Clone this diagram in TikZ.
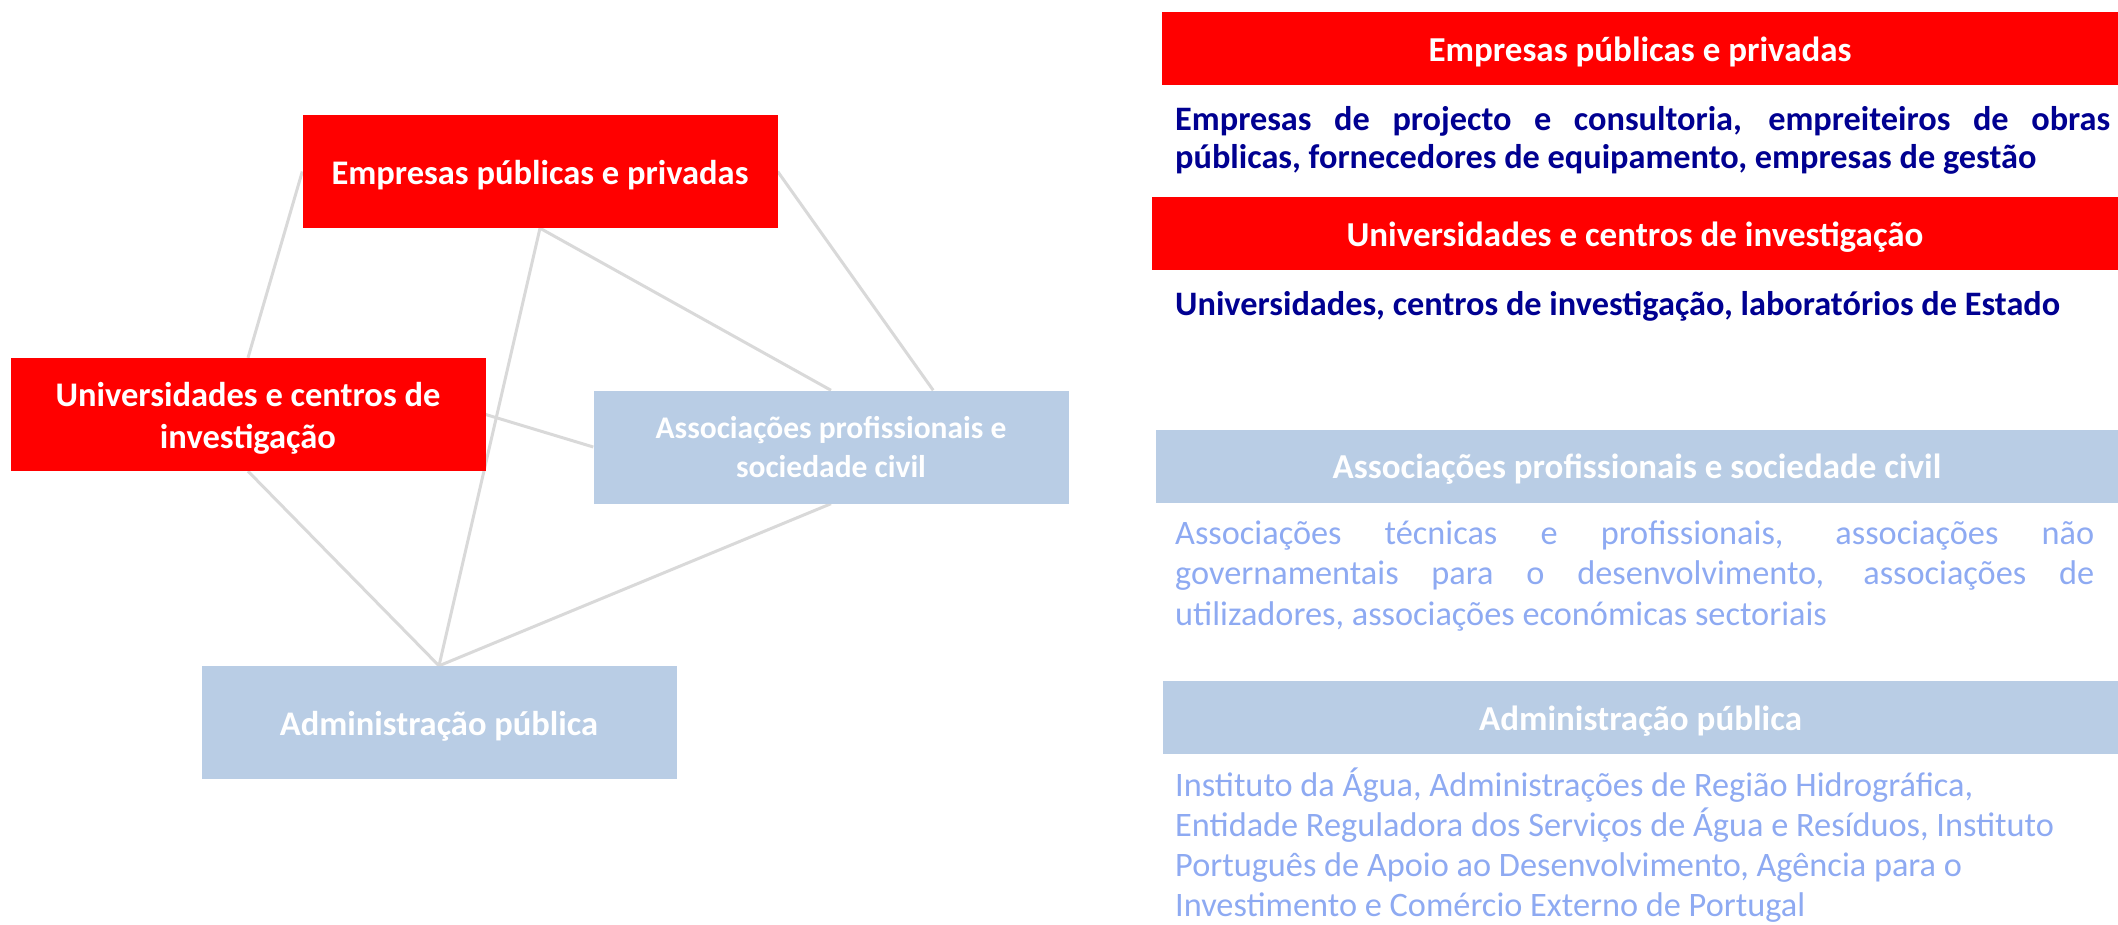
\documentclass[tikz,border=0pt]{standalone}
\usepackage{fontspec}
\setmainfont{Carlito}
\usetikzlibrary{calc}
\pgfdeclarelayer{background}
\pgfsetlayers{background,main}
\definecolor{boxred}{RGB}{255,0,0}
\definecolor{boxblue}{RGB}{185,205,229}
\definecolor{linegray}{RGB}{217,217,217}
\definecolor{navytext}{RGB}{0,0,145}
\definecolor{lighttext}{RGB}{142,170,242}
\newcommand\lnstrut{\rule[-0.22em]{0pt}{1.17em}}
\tikzset{
  leftbox/.style={rectangle, minimum width=475pt, minimum height=113pt, inner sep=0pt, text=white, align=center, font=\fontsize{34.5}{42}\selectfont\bfseries},
  redbox/.style={leftbox, fill=boxred},
  bluebox/.style={leftbox, fill=boxblue},
  headbox/.style={rectangle, minimum height=73pt, inner sep=0pt, text=white, font=\fontsize{35}{42}\selectfont\bfseries},
  conn/.style={draw=linegray, line width=3pt},
  navyline/.style={anchor=base west, inner sep=0pt, text=navytext, font=\fontsize{34.3}{40}\selectfont\bfseries},
  lightline/.style={anchor=base west, inner sep=0pt, text=lighttext, font=\fontsize{34.3}{40}\selectfont},
}
\begin{document}
\begin{tikzpicture}[x=1pt,y=-1pt]
\useasboundingbox (0,0) rectangle (2118,925);
% left diagram
\node[redbox] (emp) at (540,171.5) {\lnstrut Empresas públicas e privadas};
\node[redbox] (uni) at (248,414.5) {\lnstrut Universidades e centros de\\\lnstrut investigação};
\node[bluebox, font=\fontsize{31.5}{39}\selectfont\bfseries] (assoc) at (831,447) {\lnstrut Associações profissionais e\\\lnstrut sociedade civil};
\node[bluebox] (adm) at (439,722.5) {\lnstrut Administração pública};
\coordinate (assocR) at ($(assoc.north west)!0.715!(assoc.north east)$);
\begin{pgfonlayer}{background}
\draw[conn] (emp.west) -- (uni.north);
\draw[conn] (emp.south) -- (adm.north);
\draw[conn] (emp.south) -- (assoc.north);
\draw[conn] (emp.east) -- (assocR);
\draw[conn] (uni.east) -- (assoc.west);
\draw[conn] (uni.south) -- (adm.north);
\draw[conn] (assoc.south) -- (adm.north);
\end{pgfonlayer}
% right column
\node[headbox, fill=boxred, minimum width=956pt] (h1) at (1640,48.5) {\lnstrut Empresas públicas e privadas};
\node[navyline] (t1a) at (1175,130.5) {\makebox[935pt][s]{Empresas de projecto e consultoria, empreiteiros de obras}};
\node[navyline] (t1b) at (1175,169) {públicas, fornecedores de equipamento, empresas de gestão};
\node[headbox, fill=boxred, minimum width=966pt] (h2) at (1635,233.5) {\lnstrut Universidades e centros de investigação};
\node[navyline] (t2a) at (1175,316) {Universidades, centros de investigação, laboratórios de Estado};
\node[headbox, fill=boxblue, minimum width=962pt] (h3) at (1637,466) {\lnstrut Associações profissionais e sociedade civil};
\node[lightline] (t3a) at (1175,544) {\makebox[919pt][s]{Associações técnicas e profissionais, associações não}};
\node[lightline] (t3b) at (1175,584.5) {\makebox[919pt][s]{governamentais para o desenvolvimento, associações de}};
\node[lightline] (t3c) at (1175,625) {utilizadores, associações económicas sectoriais};
\node[headbox, fill=boxblue, minimum width=955pt] (h4) at (1640.5,717.5) {\lnstrut Administração pública};
\node[lightline] (t4a) at (1175,796) {Instituto da Água, Administrações de Região Hidrográfica,};
\node[lightline] (t4b) at (1175,836) {Entidade Reguladora dos Serviços de Água e Resíduos, Instituto};
\node[lightline] (t4c) at (1175,876) {Português de Apoio ao Desenvolvimento, Agência para o};
\node[lightline] (t4d) at (1175,916) {Investimento e Comércio Externo de Portugal};
\end{tikzpicture}
\end{document}
